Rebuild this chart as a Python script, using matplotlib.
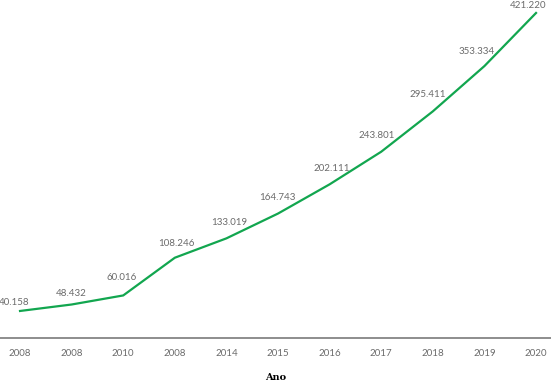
import matplotlib.pyplot as plt

# 데이터
anos = ["2008", "2008", "2010", "2008", "2014", "2015", "2016", "2017", "2018", "2019", "2020"]
valores = [40158, 48432, 60016, 108246, 133019, 164743, 202111, 243801, 295411, 353334, 421220]

# 라벨 위치 조정 (픽셀, 선과 겹치지 않도록)
label_dx = [-6, 0, -2, 2, 3, -1, 2, -5, -5, -8, -7.5]
label_dy = [8, 11, 18, 14, 16, 16, 16, 16, 17, 15, 7]

def fmt(v):
    return f"{v:,}".replace(",", ".")

fig = plt.figure(figsize=(5.51, 3.83), dpi=100)
ax = fig.add_axes([0, 45 / 383, 1, 338 / 383])

x = list(range(len(valores)))
ax.plot(x, valores, color="#12a64f", linewidth=1.6, solid_joinstyle="miter")

px = 72 / 100  # 픽셀 -> 포인트
for i, v in enumerate(valores):
    ax.annotate(fmt(v), (i, v), xytext=(label_dx[i] * px, label_dy[i] * px),
                textcoords="offset points", ha="center", va="center",
                fontsize=7, color="#6b6b6b", family="Lato")

ax.set_xlim(-0.388, 10.29)
ax.set_ylim(5600, 437800)
ax.set_xticks(x)
ax.set_xticklabels(anos, fontsize=7, color="#6b6b6b", family="Lato")
ax.tick_params(axis="x", length=0, pad=8)
ax.set_yticks([])

for s in ["top", "left", "right"]:
    ax.spines[s].set_visible(False)
ax.spines["bottom"].set_color("#7a7a7a")
ax.spines["bottom"].set_linewidth(1.2)

ax.set_xlabel("Ano", fontsize=7, fontweight="bold", family="DejaVu Serif", labelpad=11)

fig.savefig("out.png", dpi=100)
